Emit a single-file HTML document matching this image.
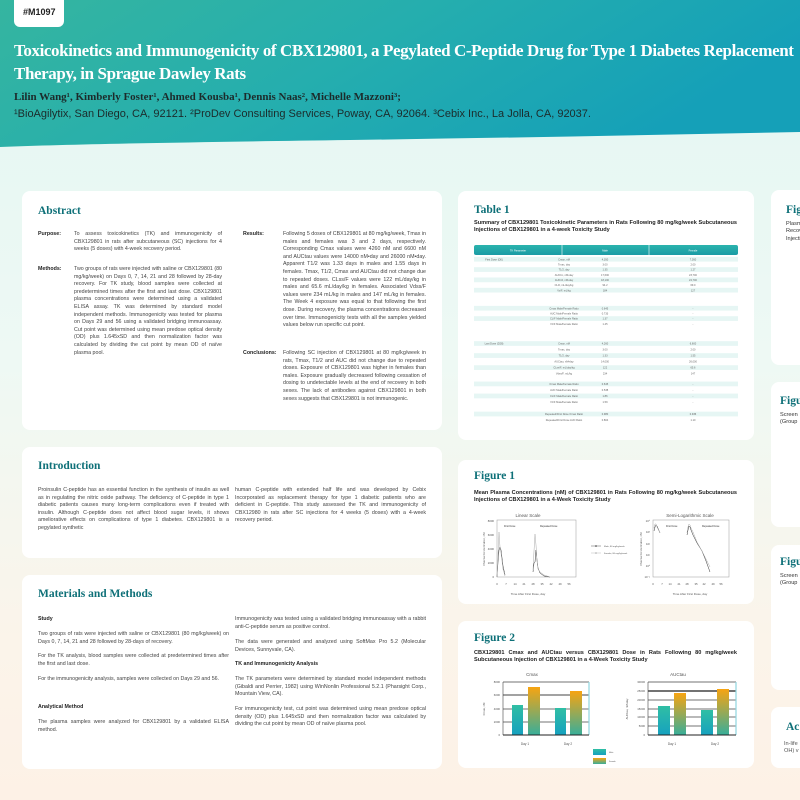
<!DOCTYPE html>
<html><head><meta charset="utf-8"><style>
*{margin:0;padding:0;box-sizing:border-box}
body{width:800px;height:800px;overflow:hidden;position:relative;font-family:"Liberation Sans",sans-serif;background:linear-gradient(180deg,#e3f6f2 0%,#eef9f4 45%,#fbf4ea 80%,#fdf1e6 100%)}
.hdr{position:absolute;left:0;top:0;width:800px;height:150px}
.badge{position:absolute;left:14px;top:-6px;width:50px;height:33px;background:#fff;border-radius:6px;font:bold 9px "Liberation Sans",sans-serif;color:#222;padding:13px 0 0 9px}
.title{position:absolute;left:14px;top:39px;color:#fff;font:bold 17px/23px "Liberation Serif",serif;white-space:nowrap;letter-spacing:-0.4px}
.auth{position:absolute;left:14px;top:91px;color:#1c2b2b;font:bold 11px "Liberation Serif",serif;white-space:nowrap}
.aff{position:absolute;left:14px;top:108px;color:#1c2b2b;font:11px "Liberation Sans",sans-serif;white-space:nowrap}
.card{position:absolute;background:#fff;border-radius:8px}
h2{position:absolute;font:bold 11.5px "Liberation Serif",serif;color:#0e7078}
.t{position:absolute;font-size:5.3px;line-height:7.6px;color:#444;text-align:justify}
.b{font-weight:bold;color:#222}
.cap{position:absolute;font:bold 5.6px/7.4px "Liberation Sans",sans-serif;color:#222;text-align:justify}
</style></head><body>
<svg class="hdr" width="800" height="150" viewBox="0 0 800 150">
<defs><linearGradient id="hg" x1="0" y1="0" x2="1" y2="0.3"><stop offset="0" stop-color="#35b5a0"/><stop offset="0.5" stop-color="#25aeae"/><stop offset="1" stop-color="#15a0b8"/></linearGradient></defs>
<path d="M0 0H800V132C650 135 500 138 350 140C200 142 80 144 0 147Z" fill="url(#hg)"/>
</svg>
<div class="badge">#M1097</div>
<div class="title">Toxicokinetics and Immunogenicity of CBX129801, a Pegylated C-Peptide Drug for Type 1 Diabetes Replacement<br>Therapy, in Sprague Dawley Rats</div>
<div class="auth">Lilin Wang¹, Kimberly Foster¹, Ahmed Kousba¹, Dennis Naas², Michelle Mazzoni³;</div>
<div class="aff">¹BioAgilytix, San Diego, CA, 92121. ²ProDev Consulting Services, Poway, CA, 92064. ³Cebix Inc., La Jolla, CA, 92037.</div>

<!-- Abstract -->
<div class="card" style="left:22px;top:191px;width:420px;height:239px"></div>
<h2 style="left:38px;top:205px">Abstract</h2>
<div class="t b" style="left:38px;top:231px">Purpose:</div>
<div class="t" style="left:74px;top:231px;width:148px">To assess toxicokinetics (TK) and immunogenicity of CBX129801 in rats after subcutaneous (SC) injections for 4 weeks (5 doses) with 4-week recovery period.</div>
<div class="t b" style="left:38px;top:266px">Methods:</div>
<div class="t" style="left:74px;top:266px;width:148px">Two groups of rats were injected with saline or CBX129801 (80 mg/kg/week) on Days 0, 7, 14, 21 and 28 followed by 28-day recovery. For TK study, blood samples were collected at predetermined times after the first and last dose. CBX129801 plasma concentrations were determined using a validated ELISA assay. TK was determined by standard model independent methods. Immunogenicity was tested for plasma on Days 29 and 56 using a validated bridging immunoassay. Cut point was determined using mean predose optical density (OD) plus 1.645xSD and then normalization factor was calculated by dividing the cut point by mean OD of naïve plasma pool.</div>
<div class="t b" style="left:243px;top:231px">Results:</div>
<div class="t" style="left:283px;top:231px;width:143px">Following 5 doses of CBX129801 at 80 mg/kg/week, Tmax in males and females was 3 and 2 days, respectively. Corresponding Cmax values were 4260 nM and 6600 nM and AUCtau values were 14000 nM•day and 26000 nM•day. Apparent T1/2 was 1.33 days in males and 1.55 days in females. Tmax, T1/2, Cmax and AUCtau did not change due to repeated doses. CLss/F values were 122 mL/day/kg in males and 65.6 mL/day/kg in females. Associated Vdss/F values were 234 mL/kg in males and 147 mL/kg in females. The Week 4 exposure was equal to that following the first dose. During recovery, the plasma concentrations decreased over time. Immunogenicity tests with all the samples yielded values below run specific cut point.</div>
<div class="t b" style="left:243px;top:350px">Conclusions:</div>
<div class="t" style="left:283px;top:350px;width:143px">Following SC injection of CBX129801 at 80 mg/kg/week in rats, Tmax, T1/2 and AUC did not change due to repeated doses. Exposure of CBX129801 was higher in females than males. Exposure gradually decreased following cessation of dosing to undetectable levels at the end of recovery in both sexes. The lack of antibodies against CBX129801 in both sexes suggests that CBX129801 is not immunogenic.</div>

<!-- Intro -->
<div class="card" style="left:22px;top:447px;width:420px;height:111px"></div>
<h2 style="left:38px;top:460px">Introduction</h2>
<div class="t" style="left:38px;top:487px;width:191px">Proinsulin C-peptide has an essential function in the synthesis of insulin as well as in regulating the nitric oxide pathway. The deficiency of C-peptide in type 1 diabetic patients causes many long-term complications even if treated with insulin. Although C-peptide does not affect blood sugar levels, it shows ameliorative effects on complications of type 1 diabetes. CBX129801 is a pegylated synthetic</div>
<div class="t" style="left:235px;top:487px;width:191px">human C-peptide with extended half life and was developed by Cebix Incorporated as replacement therapy for type 1 diabetic patients who are deficient in C-peptide. This study assessed the TK and immunogenicity of CBX12980 in rats after SC injections for 4 weeks (5 doses) with a 4-week recovery period.</div>

<!-- M&M -->
<div class="card" style="left:22px;top:575px;width:420px;height:194px"></div>
<h2 style="left:38px;top:588px">Materials and Methods</h2>
<div class="t b" style="left:38px;top:616px">Study</div>
<div class="t" style="left:38px;top:631px;width:191px">Two groups of rats were injected with saline or CBX129801 (80 mg/kg/week) on Days 0, 7, 14, 21 and 28 followed by 28-days of recovery.</div>
<div class="t" style="left:38px;top:653px;width:191px">For the TK analysis, blood samples were collected at predetermined times after the first and last dose.</div>
<div class="t" style="left:38px;top:676px;width:191px">For the immunogenicity analysis, samples were collected on Days 29 and 56.</div>
<div class="t b" style="left:38px;top:704px">Analytical Method</div>
<div class="t" style="left:38px;top:719px;width:191px">The plasma samples were analyzed for CBX129801 by a validated ELISA method.</div>
<div class="t" style="left:235px;top:616px;width:191px">Immunogenicity was tested using a validated bridging immunoassay with a rabbit anti-C-peptide serum as positive control.</div>
<div class="t" style="left:235px;top:639px;width:191px">The data were generated and analyzed using SoftMax Pro 5.2 (Molecular Devices, Sunnyvale, CA).</div>
<div class="t b" style="left:235px;top:661px">TK and Immunogenicity Analysis</div>
<div class="t" style="left:235px;top:676px;width:191px">The TK parameters were determined by standard model independent methods (Gibaldi and Perrier, 1982) using WinNonlin Professional 5.2.1 (Pharsight Corp., Mountain View, CA).</div>
<div class="t" style="left:235px;top:706px;width:191px">For immunogenicity test, cut point was determined using mean predose optical density (OD) plus 1.645xSD and then normalization factor was calculated by dividing the cut point by mean OD of naïve plasma pool.</div>

<!-- Table 1 -->
<div class="card" style="left:458px;top:191px;width:296px;height:249px"></div>
<h2 style="left:474px;top:204px">Table 1</h2>
<div class="cap" style="left:474px;top:220px;width:263px">Summary of CBX129801 Toxicokinetic Parameters in Rats Following 80 mg/kg/week Subcutaneous Injections of CBX129801 in a 4-week Toxicity Study</div>
<svg style="position:absolute;left:474px;top:245px" width="264" height="185">
<defs><linearGradient id="th" x1="0" y1="0" x2="0" y2="1"><stop offset="0" stop-color="#2bb3ad"/><stop offset="1" stop-color="#1a9ba5"/></linearGradient></defs>
<rect x="0" y="0" width="264" height="10" rx="2" fill="url(#th)"/>
<line x1="88" y1="0" x2="88" y2="10" stroke="#fff" stroke-width="0.6"/><line x1="175" y1="0" x2="175" y2="10" stroke="#fff" stroke-width="0.6"/>
<g font-size="2.6" fill="#fff" text-anchor="middle"><text x="44" y="6.5">TK Parameter</text><text x="131" y="6.5">Male</text><text x="219" y="6.5">Female</text></g>
<g transform="translate(0,11) scale(1,0.86)">
<g fill="#e6f6f4">
<rect y="1" width="264" height="5.5"/><rect y="13" width="264" height="5.5"/><rect y="25" width="264" height="5.5"/><rect y="37" width="264" height="5.5"/>
<rect y="58" width="264" height="5.5"/><rect y="70" width="264" height="5.5"/>
<rect y="99" width="264" height="5.5"/><rect y="113" width="264" height="5.5"/><rect y="127" width="264" height="5.5"/>
<rect y="146" width="264" height="5.5"/><rect y="160" width="264" height="5.5"/>
<rect y="181" width="264" height="5.5"/>
</g>
<g font-size="2.6" fill="#666" text-anchor="middle">
<text x="20" y="5">First Dose (D0)</text><text x="20" y="103">Last Dose (D28)</text>
<text x="90" y="5">Cmax, nM</text><text x="90" y="11">Tmax, day</text><text x="90" y="17">T1/2, day</text><text x="90" y="23">AUC0-t, nM•day</text><text x="90" y="29">AUCinf, nM•day</text><text x="90" y="35">CL/F, mL/day/kg</text><text x="90" y="41">Vz/F, mL/kg</text>
<text x="90" y="62">Cmax Male/Female Ratio</text><text x="90" y="68">AUC Male/Female Ratio</text><text x="90" y="74">CL/F Male/Female Ratio</text><text x="90" y="80">Vz/F Male/Female Ratio</text>
<text x="90" y="103">Cmax, nM</text><text x="90" y="110">Tmax, day</text><text x="90" y="117">T1/2, day</text><text x="90" y="124">AUCtau, nM•day</text><text x="90" y="131">CLss/F, mL/day/kg</text><text x="90" y="138">Vdss/F, mL/kg</text>
<text x="90" y="150">Cmax Male/Female Ratio</text><text x="90" y="157">AUC Male/Female Ratio</text><text x="90" y="164">CL/F Male/Female Ratio</text><text x="90" y="171">Vz/F Male/Female Ratio</text>
<text x="90" y="185">Repeated/First Dose Cmax Ratio</text><text x="90" y="192">Repeated/First Dose AUC Ratio</text>
<text x="131" y="5">4,350</text><text x="131" y="11">3.00</text><text x="131" y="17">1.35</text><text x="131" y="23">17,600</text><text x="131" y="29">18,100</text><text x="131" y="35">94.2</text><text x="131" y="41">184</text>
<text x="131" y="62">0.645</text><text x="131" y="68">0.733</text><text x="131" y="74">1.37</text><text x="131" y="80">1.45</text>
<text x="131" y="103">4,260</text><text x="131" y="110">3.00</text><text x="131" y="117">1.33</text><text x="131" y="124">14,000</text><text x="131" y="131">122</text><text x="131" y="138">234</text>
<text x="131" y="150">0.645</text><text x="131" y="157">0.538</text><text x="131" y="164">1.86</text><text x="131" y="171">1.59</text>
<text x="131" y="185">0.980</text><text x="131" y="192">0.804</text>
<text x="219" y="5">7,050</text><text x="219" y="11">2.00</text><text x="219" y="17">1.27</text><text x="219" y="23">23,700</text><text x="219" y="29">24,700</text><text x="219" y="35">69.0</text><text x="219" y="41">127</text>
<text x="219" y="62">-</text><text x="219" y="68">-</text><text x="219" y="74">-</text><text x="219" y="80">-</text>
<text x="219" y="103">6,600</text><text x="219" y="110">2.00</text><text x="219" y="117">1.55</text><text x="219" y="124">26,000</text><text x="219" y="131">65.6</text><text x="219" y="138">147</text>
<text x="219" y="150">-</text><text x="219" y="157">-</text><text x="219" y="164">-</text><text x="219" y="171">-</text>
<text x="219" y="185">0.936</text><text x="219" y="192">1.10</text>
</g></g>
</svg>

<!-- Figure 1 -->
<div class="card" style="left:458px;top:460px;width:296px;height:144px"></div>
<h2 style="left:474px;top:470px">Figure 1</h2>
<div class="cap" style="left:474px;top:490px;width:263px">Mean Plasma Concentrations (nM) of CBX129801 in Rats Following 80 mg/kg/week Subcutaneous Injections of CBX129801 in a 4-Week Toxicity Study</div>
<svg style="position:absolute;left:470px;top:505px" width="280" height="95" font-family="Liberation Sans" fill="#555">
<text x="58" y="12" font-size="4.5" text-anchor="middle">Linear Scale</text>
<rect x="27" y="15" width="79" height="57" fill="none" stroke="#999" stroke-width="0.5"/>
<g font-size="2.8" text-anchor="end"><text x="24" y="17">8000</text><text x="24" y="31">6000</text><text x="24" y="45">4000</text><text x="24" y="59">2000</text><text x="24" y="73">0</text></g>
<g font-size="2.8" text-anchor="middle"><text x="27" y="80">0</text><text x="36" y="80">7</text><text x="45" y="80">14</text><text x="54" y="80">21</text><text x="63" y="80">28</text><text x="72" y="80">35</text><text x="81" y="80">42</text><text x="90" y="80">49</text><text x="99" y="80">56</text></g>
<text x="58" y="90" font-size="3" text-anchor="middle">Time After First Dose, day</text>
<text x="15" y="44" font-size="2.8" text-anchor="middle" transform="rotate(-90 15 44)">Plasma Concentration, nM</text>
<text x="34" y="22" font-size="2.5" fill="#333">First Dose</text><text x="70" y="22" font-size="2.5" fill="#333">Repeated Dose</text>
<polyline points="27,72 28,57 29,45 30,42 31,45 33,61 35,70" fill="none" stroke="#333" stroke-width="0.5"/>
<polyline points="27,72 28,52 29,27 30,42 31,48 33,64 35,71" fill="none" stroke="#aaa" stroke-width="0.5"/>
<polyline points="63,67 64,58 65,57 66,45 67,55 68,63 70,68 74,71 80,72" fill="none" stroke="#333" stroke-width="0.5"/>
<polyline points="63,65 64,46 65,29 66,40 67,56 68,64 70,67 74,70 80,72" fill="none" stroke="#aaa" stroke-width="0.5"/>
<line x1="121" y1="41" x2="131" y2="41" stroke="#333" stroke-width="0.4"/><circle cx="126" cy="41" r="0.8" fill="#333"/><text x="134" y="42" font-size="2.2">Male, 80 mg/kg/week</text>
<line x1="121" y1="48" x2="131" y2="48" stroke="#aaa" stroke-width="0.4"/><circle cx="126" cy="48" r="0.8" fill="#aaa"/><text x="134" y="49" font-size="2.2">Female, 80 mg/kg/week</text>
<text x="220" y="12" font-size="4.5" text-anchor="middle">Semi-Logarithmic Scale</text>
<rect x="183" y="15" width="76" height="57" fill="none" stroke="#999" stroke-width="0.5"/>
<g font-size="2.8" text-anchor="end"><text x="180" y="17">10⁴</text><text x="180" y="28">10³</text><text x="180" y="40">10²</text><text x="180" y="51">10¹</text><text x="180" y="62">10⁰</text><text x="180" y="73">10⁻¹</text></g>
<g font-size="2.8" text-anchor="middle"><text x="183" y="80">0</text><text x="192" y="80">7</text><text x="200" y="80">14</text><text x="209" y="80">21</text><text x="217" y="80">28</text><text x="226" y="80">35</text><text x="234" y="80">42</text><text x="243" y="80">49</text><text x="251" y="80">56</text></g>
<text x="220" y="90" font-size="3" text-anchor="middle">Time After First Dose, day</text>
<text x="172" y="44" font-size="2.8" text-anchor="middle" transform="rotate(-90 172 44)">Plasma Concentration, nM</text>
<text x="196" y="22" font-size="2.5" fill="#333">First Dose</text><text x="232" y="22" font-size="2.5" fill="#333">Repeated Dose</text>
<polyline points="184,26 185,22 186,20 187,21 190,28" fill="none" stroke="#333" stroke-width="0.5"/>
<polyline points="184,23 185,19 186,19 187,22 190,28" fill="none" stroke="#aaa" stroke-width="0.5"/>
<polyline points="217,30 218,25 219,21 220,22 221,25 223,30 227,38 232,46 236,56 240,67" fill="none" stroke="#333" stroke-width="0.5"/>
<polyline points="217,28 218,22 219,19 220,20 221,23 223,27 227,37 232,46 236,54 240,62" fill="none" stroke="#aaa" stroke-width="0.5"/>
</svg>

<!-- Figure 2 -->
<div class="card" style="left:458px;top:621px;width:296px;height:147px"></div>
<h2 style="left:474px;top:632px">Figure 2</h2>
<div class="cap" style="left:474px;top:650px;width:263px">CBX129801 Cmax and AUCtau versus CBX129801 Dose in Rats Following 80 mg/kg/week Subcutaneous Injection of CBX129801 in a 4-Week Toxicity Study</div>
<svg style="position:absolute;left:470px;top:665px" width="280" height="100" font-family="Liberation Sans" fill="#555">
<defs>
<linearGradient id="gm" x1="0" y1="0" x2="0" y2="1"><stop offset="0" stop-color="#30bfa4"/><stop offset="1" stop-color="#16a1bf"/></linearGradient>
<linearGradient id="gf" x1="0" y1="0" x2="0" y2="1"><stop offset="0" stop-color="#f7a412"/><stop offset="1" stop-color="#38ae9a"/></linearGradient>
</defs>
<text x="62" y="11" font-size="4.5" text-anchor="middle">Cmax</text>
<g stroke="#444" stroke-width="0.8"><line x1="33" y1="17" x2="119" y2="17"/><line x1="33" y1="30" x2="119" y2="30" stroke-width="1"/><line x1="33" y1="44" x2="119" y2="44"/><line x1="33" y1="57" x2="119" y2="57"/></g>
<line x1="119" y1="17" x2="119" y2="70" stroke="#8fd6e0" stroke-width="1.2"/>
<line x1="33" y1="17" x2="33" y2="70" stroke="#444" stroke-width="0.6"/>
<rect x="42" y="40" width="11" height="30" fill="url(#gm)"/><rect x="58" y="22" width="12" height="48" fill="url(#gf)"/>
<rect x="85" y="43" width="11" height="27" fill="url(#gm)"/><rect x="100" y="26" width="12" height="44" fill="url(#gf)"/>
<line x1="33" y1="70" x2="119" y2="70" stroke="#222" stroke-width="1"/>
<g font-size="2.8" text-anchor="end"><text x="30" y="18">8000</text><text x="30" y="31">6000</text><text x="30" y="45">4000</text><text x="30" y="58">2000</text><text x="30" y="71">0</text></g>
<text x="55" y="80" font-size="3.2" text-anchor="middle">Day 1</text><text x="98" y="80" font-size="3.2" text-anchor="middle">Day 2</text>
<text x="15" y="44" font-size="2.8" text-anchor="middle" transform="rotate(-90 15 44)">Cmax, nM</text>
<rect x="123" y="84" width="13" height="6" fill="url(#gm)"/><text x="139" y="88" font-size="2">Male</text>
<rect x="123" y="93" width="13" height="6" fill="url(#gf)"/><text x="139" y="97" font-size="2">Female</text>
<text x="208" y="11" font-size="4.5" text-anchor="middle">AUCtau</text>
<g stroke="#444" stroke-width="0.8"><line x1="178" y1="17" x2="266" y2="17"/><line x1="178" y1="26" x2="266" y2="26" stroke-width="1.4"/><line x1="178" y1="35" x2="266" y2="35"/><line x1="178" y1="44" x2="266" y2="44"/><line x1="178" y1="52" x2="266" y2="52"/><line x1="178" y1="61" x2="266" y2="61"/></g>
<line x1="266" y1="17" x2="266" y2="70" stroke="#8fd6e0" stroke-width="1.2"/>
<line x1="178" y1="17" x2="178" y2="70" stroke="#444" stroke-width="0.6"/>
<rect x="188" y="41" width="12" height="29" fill="url(#gm)"/><rect x="204" y="28" width="12" height="42" fill="url(#gf)"/>
<rect x="231" y="45" width="12" height="25" fill="url(#gm)"/><rect x="247" y="24" width="12" height="46" fill="url(#gf)"/>
<line x1="178" y1="70" x2="266" y2="70" stroke="#222" stroke-width="1"/>
<g font-size="2.8" text-anchor="end"><text x="175" y="18">30000</text><text x="175" y="27">25000</text><text x="175" y="36">20000</text><text x="175" y="45">15000</text><text x="175" y="53">10000</text><text x="175" y="62">5000</text><text x="175" y="71">0</text></g>
<text x="202" y="80" font-size="3.2" text-anchor="middle">Day 1</text><text x="245" y="80" font-size="3.2" text-anchor="middle">Day 2</text>
<text x="158" y="44" font-size="2.8" text-anchor="middle" transform="rotate(-90 158 44)">AUCtau, nM•day</text>
</svg>

<!-- Right column -->
<div class="card" style="left:771px;top:190px;width:60px;height:175px"></div>
<h2 style="left:786px;top:204px">Fig</h2>
<div class="cap" style="left:786px;top:221px;width:40px;font-weight:normal;color:#333">Plasma<br>Recovery<br>Injections</div>
<div class="card" style="left:771px;top:382px;width:60px;height:145px"></div>
<h2 style="left:780px;top:395px">Figu</h2>
<div class="cap" style="left:780px;top:412px;width:40px;font-weight:normal;color:#333">Screen<br>(Group</div>
<div class="card" style="left:771px;top:545px;width:60px;height:145px"></div>
<h2 style="left:780px;top:556px">Figu</h2>
<div class="cap" style="left:780px;top:573px;width:40px;font-weight:normal;color:#333">Screen<br>(Group</div>
<div class="card" style="left:771px;top:707px;width:60px;height:61px"></div>
<h2 style="left:786px;top:721px">Ac</h2>
<div class="cap" style="left:784px;top:741px;width:40px;font-weight:normal;color:#555">In-life<br>OH) v</div>
</body></html>
